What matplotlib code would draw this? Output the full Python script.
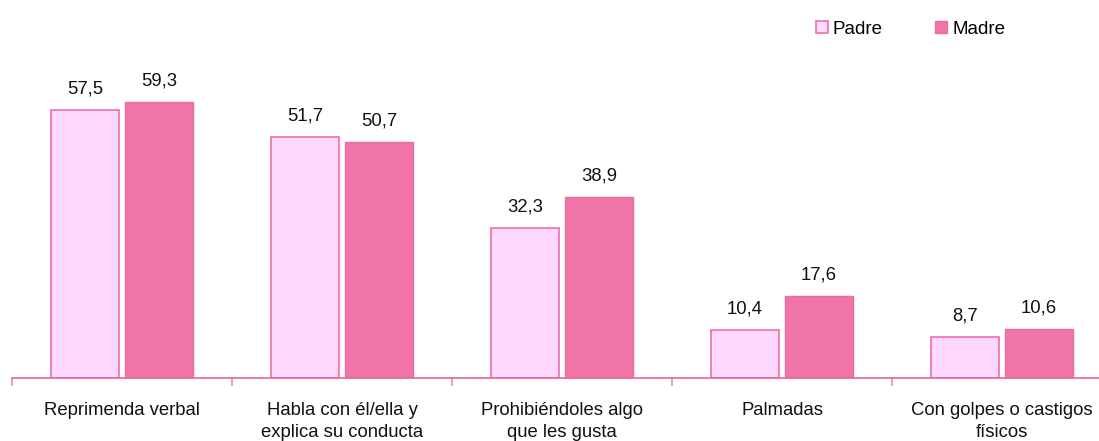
import matplotlib
matplotlib.use("Agg")
import matplotlib.pyplot as plt
import numpy as np

categories = ["Reprimenda verbal", "Habla con él/ella y\nexplica su conducta",
              "Prohibiéndoles algo\nque les gusta", "Palmadas",
              "Con golpes o castigos\nfísicos"]
padre = [57.5, 51.7, 32.3, 10.4, 8.7]
madre = [59.3, 50.7, 38.9, 17.6, 10.6]
series_names = ["Padre", "Madre"]

plt.rcParams['font.family'] = ['Liberation Sans', 'DejaVu Sans']

fig = plt.figure(figsize=(10.99, 4.41), dpi=100)
ax = fig.add_axes([12/1099, 63/441, 1100/1099, 326/441])

x = np.arange(len(categories))
w = 0.309
off = 0.168
edge = "#EE6FA6"
b1 = ax.bar(x - off, padre, w, color="#FFD8FF", edgecolor=edge, linewidth=1.2, label=series_names[0])
b2 = ax.bar(x + off, madre, w, color="#F174A9", edgecolor="#EC6CA2", linewidth=1.0, label=series_names[1])

for bars, vals in ((b1, padre), (b2, madre)):
    for r, v in zip(bars, vals):
        ax.annotate(f"{v:.1f}".replace(".", ","), (r.get_x() + r.get_width()/2, v),
                    xytext=(0, 9), textcoords="offset points", ha="center", va="bottom",
                    fontsize=13.3, color="#111111")

ax.set_xlim(-0.5, len(categories) - 0.5)
ax.set_ylim(0, 70)
ax.set_yticks([])
for s in ("top", "right", "left"):
    ax.spines[s].set_visible(False)
ax.spines["bottom"].set_color("#E8649C")
ax.spines["bottom"].set_linewidth(1.2)

ax.set_xticks(np.arange(len(categories) + 1) - 0.5, minor=True)
ax.tick_params(axis="x", which="minor", length=6, color="#F08CB8", width=1.2)
ax.set_xticks(x)
ax.set_xticklabels(categories, fontsize=13.3, linespacing=1.4, color="#111111")
ax.tick_params(axis="x", which="major", length=0, pad=17)

leg = ax.legend(loc="center left", bbox_to_anchor=(799/1099, 1 - 29/441), bbox_transform=fig.transFigure,
                ncol=2, frameon=False, fontsize=13.5, handlelength=0.64, handleheight=0.64,
                handletextpad=0.27, columnspacing=2.8)

fig.savefig("out.png", dpi=100)
